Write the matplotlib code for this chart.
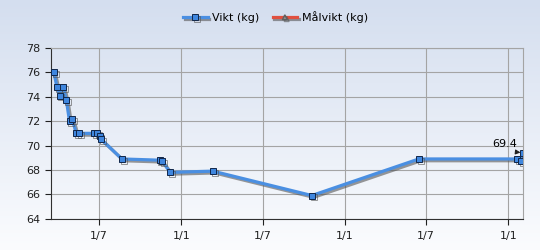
import matplotlib
matplotlib.use("Agg")
import matplotlib.pyplot as plt
import matplotlib.patheffects as pe
import numpy as np
from datetime import datetime

dates = ["2012-03-22", "2012-03-29", "2012-04-04", "2012-04-12", "2012-04-19",
         "2012-04-26", "2012-05-02", "2012-05-11", "2012-05-18", "2012-06-20",
         "2012-06-27", "2012-07-02", "2012-07-06", "2012-08-21", "2012-11-13",
         "2012-11-19", "2012-12-07", "2013-03-12", "2013-10-19", "2014-06-15",
         "2015-01-21", "2015-01-30", "2015-02-03"]
weights = [76.0, 74.8, 74.1, 74.8, 73.7, 72.0, 72.2, 71.0, 71.0, 71.0,
           71.0, 70.8, 70.5, 68.9, 68.8, 68.7, 67.8, 67.9, 65.9, 68.9,
           68.9, 68.7, 69.4]
target_dates = []
target_weights = []
tick_dates = ["2012-07-01", "2013-01-01", "2013-07-01", "2014-01-01", "2014-07-01", "2015-01-01"]
tick_labels = ["1/7", "1/1", "1/7", "1/1", "1/7", "1/1"]
y_ticks = [64, 66, 68, 70, 72, 74, 76, 78]
series_names = ["Vikt (kg)", "Målvikt (kg)"]
last_label = "69.4"

to_dt = lambda s: datetime.strptime(s, "%Y-%m-%d")
x = [to_dt(d) for d in dates]

fig = plt.figure(figsize=(5.4, 2.5), dpi=100)

# gradient background
bg = fig.add_axes([0, 0, 1, 1], zorder=-10)
top = np.array([0xd4, 0xde, 0xef]) / 255
bot = np.array([0xfb, 0xfc, 0xfe]) / 255
t = np.linspace(0, 1, 256)[:, None]
grad = (top[None, :] * (1 - t) + bot[None, :] * t)[:, None, :]
bg.imshow(grad, aspect="auto", extent=[0, 1, 0, 1])
bg.axis("off")

ax = fig.add_axes([0.0939, 0.1252, 0.969 - 0.0939, 0.808 - 0.1252])
ax.set_facecolor("none")

shadow = [pe.SimpleLineShadow(offset=(1.3, -1.3), shadow_color="#555555", alpha=0.6), pe.Normal()]
l1, = ax.plot(x, weights, color="#4a8fe2", lw=2.3, marker="s", ms=4.3,
              mfc="#3f86de", mec="#10264a", mew=0.7, path_effects=shadow,
              zorder=5, label=series_names[0])
l2, = ax.plot([to_dt(d) for d in target_dates], target_weights, color="#e05040", lw=2.3,
              marker="^", ms=3.5, mfc="#909090", mec="#606060",
              path_effects=shadow, label=series_names[1])

ax.set_ylim(64, 78)
ax.set_yticks(y_ticks)
ax.set_xlim(to_dt("2012-03-15"), to_dt("2015-02-03"))
ax.set_xticks([to_dt(d) for d in tick_dates])
ax.set_xticklabels(tick_labels)

ax.grid(True, color="#a4a4a4", lw=0.8)
ax.set_axisbelow(True)
for s in ["top", "right"]:
    ax.spines[s].set_color("#a4a4a4")
for s in ["left", "bottom"]:
    ax.spines[s].set_color("#303030")
ax.tick_params(axis="both", labelsize=8, colors="#202020", length=4, width=0.8)
ax.tick_params(axis="x", pad=5)

ax.annotate(last_label, xy=(x[-1], weights[-1]), xytext=(-22, 2.5),
            textcoords="offset points", fontsize=8, ha="left", va="bottom",
            arrowprops=dict(arrowstyle="-|>", color="#202020", lw=0.8,
                            shrinkA=0, shrinkB=2, mutation_scale=7,
                            relpos=(0, 0)),
            zorder=10)

leg = fig.legend(handles=[l1, l2], loc="upper center", bbox_to_anchor=(0.51, 0.995),
                 ncol=2, frameon=False, fontsize=8, handlelength=2.2,
                 columnspacing=1.2, handletextpad=0.4)

fig.savefig("out.png", dpi=100)
